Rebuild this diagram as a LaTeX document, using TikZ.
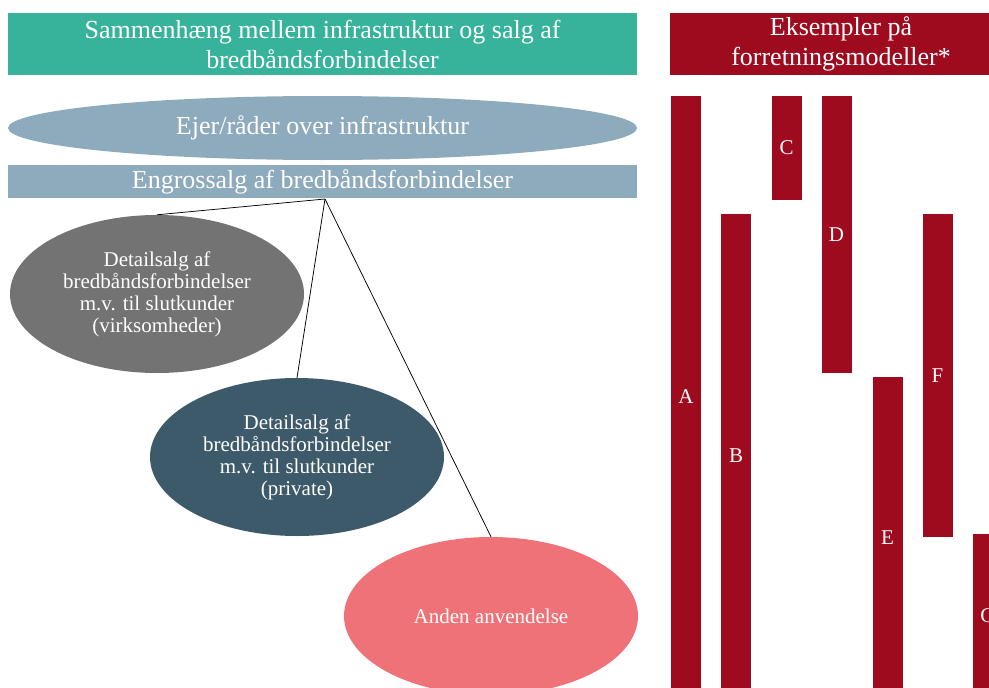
\documentclass[tikz,border=0pt]{standalone}
\usepackage{fontspec}
\setmainfont{Liberation Serif}
\usetikzlibrary{shapes.geometric}
\definecolor{headgreen}{RGB}{54,179,154}
\definecolor{modelred}{RGB}{158,11,31}
\definecolor{infrablue}{RGB}{141,171,189}
\definecolor{firmgray}{RGB}{115,115,115}
\definecolor{privateblue}{RGB}{61,90,107}
\definecolor{otherpink}{RGB}{239,114,120}
\begin{document}
\begin{tikzpicture}[x=1pt,y=-1pt,
		box/.style={rectangle,inner sep=0pt,text=white,align=center,font=\fontsize{26}{30}\selectfont},
		oval/.style={ellipse,inner sep=0pt,text=white,align=center,font=\fontsize{21}{22}\selectfont,minimum width=294pt,minimum height=158pt},
		bar/.style={rectangle,inner sep=0pt,fill=modelred,text=white,font=\fontsize{21}{22}\selectfont,minimum width=30pt}]
			\useasboundingbox (0,0) rectangle (989,688);
			\clip (0,0) rectangle (989,688);
			% headers
			\node[box,fill=headgreen,minimum width=629pt,minimum height=62pt] (head) at (322.5,44) {Sammenhæng mellem infrastruktur og salg af\\bredbåndsforbindelser};
			\node[box,fill=modelred,minimum width=342pt,minimum height=62pt] (models) at (841,44) {Eksempler på\\forretningsmodeller*};
			% left side
			\node[box,ellipse,fill=infrablue,minimum width=629pt,minimum height=64pt] (owner) at (322.5,128) {Ejer/råder over infrastruktur};
			\node[box,fill=infrablue,minimum width=629pt,minimum height=33pt] (whole) at (322.5,181.5) {Engrossalg af bredbåndsforbindelser};
			\coordinate (hub) at (325,199);
			\node[oval,fill=firmgray] (firm) at (157,294) {Detailsalg af\\bredbåndsforbindelser\\m.v. til slutkunder\\(virksomheder)};
			\node[oval,fill=privateblue] (priv) at (297,457) {Detailsalg af\\bredbåndsforbindelser\\m.v. til slutkunder\\(private)};
			\node[oval,fill=otherpink] (other) at (491,616) {Anden anvendelse};
			\draw[line width=0.75pt] (hub) -- (firm.north);
			\draw[line width=0.75pt] (hub) -- (priv.north);
			\draw[line width=0.75pt] (hub) -- (other.north);
			% models
			\node[bar,minimum height=602pt] (A) at (686,397) {A};
			\node[bar,minimum height=484pt] (B) at (736,456) {B};
			\node[bar,minimum height=104pt] (C) at (786.5,148) {C};
			\node[bar,minimum height=277pt] (D) at (836.5,234.5) {D};
			\node[bar,minimum height=321pt] (E) at (887.5,537.5) {E};
			\node[bar,minimum height=323pt] (F) at (937.5,375.5) {F};
			\node[bar,minimum height=164pt] (G) at (988,616) {G};
		\end{tikzpicture}
\end{document}
